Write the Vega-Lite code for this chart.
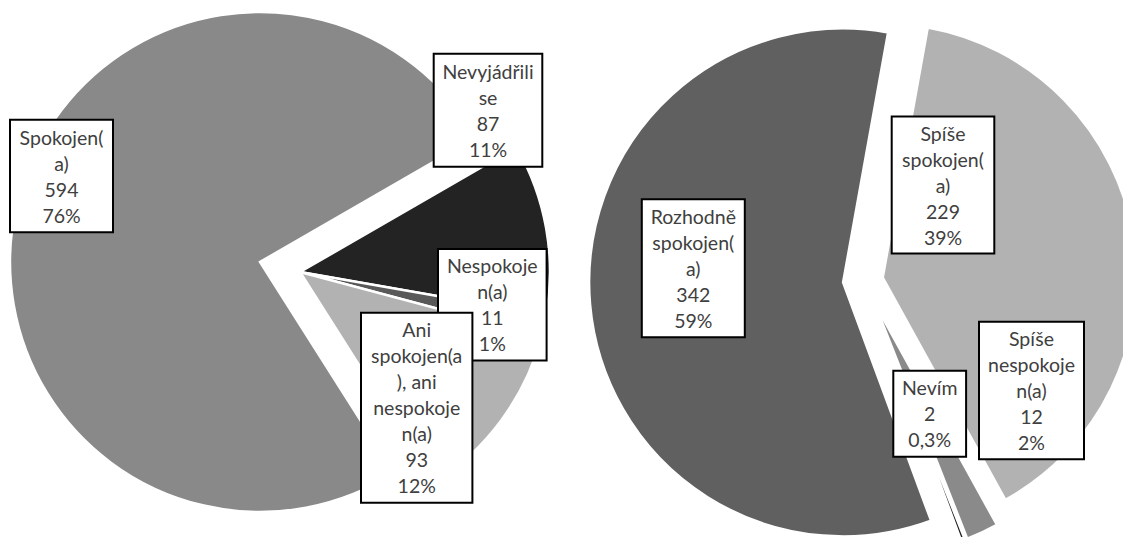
{
  "$schema": "https://vega.github.io/schema/vega-lite/v6.json",
  "padding": 0,
  "spacing": 0,
  "resolve": {"scale": {"color": "independent", "theta": "independent"}},
  "config": {
    "view": {"stroke": null},
    "text": {"font": "Lato", "fontSize": 19.5, "lineHeight": 26, "lineBreak": "\n", "color": "#404040", "align": "center", "baseline": "middle"},
    "point": {"size": 4, "filled": true, "fill": "#ffffff", "stroke": "#000000", "strokeWidth": 2, "opacity": 1}
  },
  "hconcat": [
    {
      "width": 590,
      "height": 537,
      "data": {
        "values": [
          {"cat": "Spokojen(a)", "wrapped": "Spokojen(\na)", "count": 594, "pct": "76%"},
          {"cat": "Nevyjádřili se", "wrapped": "Nevyjádřili\nse", "count": 87, "pct": "11%"},
          {"cat": "Nespokojen(a)", "wrapped": "Nespokoje\nn(a)", "count": 11, "pct": "1%"},
          {"cat": "Ani spokojen(a), ani nespokojen(a)", "wrapped": "Ani\nspokojen(a\n), ani\nnespokoje\nn(a)", "count": 93, "pct": "12%"}
        ]
      },
      "transform": [
        {"window": [{"op": "row_number", "as": "k"}]},
        {"calculate": "datum.wrapped + '\\n' + datum.count + '\\n' + datum.pct", "as": "lab"}
      ],
      "layer": [
        {
          "mark": {"type": "arc", "radius": 250, "stroke": "#ffffff", "strokeWidth": 2.5, "clip": true, "xOffset": 5, "yOffset": 3.5},
          "encoding": {
            "theta": {"field": "count", "type": "quantitative", "stack": true, "scale": {"range": [2.5761, 8.8593]}},
            "order": {"field": "k", "type": "quantitative"},
            "color": {"field": "cat", "type": "nominal", "legend": null, "scale": {"domain": ["Spokojen(a)", "Nevyjádřili se", "Nespokojen(a)", "Ani spokojen(a), ani nespokojen(a)"], "range": ["#898989", "#232323", "#595959", "#b2b2b2"]}},
            "opacity": {"condition": {"test": "datum.cat !== 'Spokojen(a)'", "value": 1}, "value": 0}
          }
        },
        {
          "mark": {"type": "arc", "radius": 250, "stroke": "#ffffff", "strokeWidth": 2.5, "clip": true, "xOffset": -35, "yOffset": -6.5},
          "encoding": {
            "theta": {"field": "count", "type": "quantitative", "stack": true, "scale": {"range": [2.5761, 8.8593]}},
            "order": {"field": "k", "type": "quantitative"},
            "color": {"field": "cat", "type": "nominal", "legend": null, "scale": {"domain": ["Spokojen(a)", "Nevyjádřili se", "Nespokojen(a)", "Ani spokojen(a), ani nespokojen(a)"], "range": ["#898989", "#232323", "#595959", "#b2b2b2"]}},
            "opacity": {"condition": {"test": "datum.cat === 'Spokojen(a)'", "value": 1}, "value": 0}
          }
        },
        {
          "transform": [{"filter": "datum.cat === 'Spokojen(a)'"}],
          "layer": [
            {"mark": {"type": "point", "shape": "M-51.5,-56.2H51.5V56.2H-51.5Z", "xOffset": -233.5, "yOffset": -92.5}},
            {"mark": {"type": "text", "xOffset": -233.5, "yOffset": -130}, "encoding": {"text": {"field": "lab", "type": "nominal"}}}
          ]
        },
        {
          "transform": [{"filter": "datum.cat === 'Nevyjádřili se'"}],
          "layer": [
            {"mark": {"type": "point", "shape": "M-54.3,-56.5H54.3V56.5H-54.3Z", "xOffset": 193, "yOffset": -158.2}},
            {"mark": {"type": "text", "xOffset": 193, "yOffset": -195.7}, "encoding": {"text": {"field": "lab", "type": "nominal"}}}
          ]
        },
        {
          "transform": [{"filter": "datum.cat === 'Nespokojen(a)'"}],
          "layer": [
            {"mark": {"type": "point", "shape": "M-54.3,-55.7H54.3V55.7H-54.3Z", "xOffset": 197.3, "yOffset": 36.2}},
            {"mark": {"type": "text", "xOffset": 197.3, "yOffset": -1.3}, "encoding": {"text": {"field": "lab", "type": "nominal"}}}
          ]
        },
        {
          "transform": [{"filter": "datum.cat === 'Ani spokojen(a), ani nespokojen(a)'"}],
          "layer": [
            {"mark": {"type": "point", "shape": "M-55.7,-95H55.7V95H-55.7Z", "xOffset": 121.7, "yOffset": 139.2}},
            {"mark": {"type": "text", "xOffset": 121.7, "yOffset": 62.7}, "encoding": {"text": {"field": "lab", "type": "nominal"}}}
          ]
        }
      ]
    },
    {
      "width": 533,
      "height": 537,
      "data": {
        "values": [
          {"cat": "Rozhodně spokojen(a)", "wrapped": "Rozhodně\nspokojen(\na)", "count": 342, "pct": "59%"},
          {"cat": "Spíše spokojen(a)", "wrapped": "Spíše\nspokojen(\na)", "count": 229, "pct": "39%"},
          {"cat": "Spíše nespokojen(a)", "wrapped": "Spíše\nnespokoje\nn(a)", "count": 12, "pct": "2%"},
          {"cat": "Nevím", "wrapped": "Nevím", "count": 2, "pct": "0,3%"}
        ]
      },
      "transform": [
        {"window": [{"op": "row_number", "as": "k"}]},
        {"calculate": "datum.wrapped + '\\n' + datum.count + '\\n' + datum.pct", "as": "lab"}
      ],
      "layer": [
        {
          "mark": {"type": "arc", "radius": 254, "stroke": "#ffffff", "strokeWidth": 2.5, "clip": true, "xOffset": -13.4, "yOffset": 13.9},
          "encoding": {
            "theta": {"field": "count", "type": "quantitative", "stack": true, "scale": {"range": [2.788, 9.0712]}},
            "order": {"field": "k", "type": "quantitative"},
            "color": {"field": "cat", "type": "nominal", "legend": null, "scale": {"domain": ["Rozhodně spokojen(a)", "Spíše spokojen(a)", "Spíše nespokojen(a)", "Nevím"], "range": ["#606060", "#b2b2b2", "#8a8a8a", "#1f1f1f"]}},
            "opacity": {"condition": {"test": "datum.cat === 'Rozhodně spokojen(a)'", "value": 1}, "value": 0}
          }
        },
        {
          "mark": {"type": "arc", "radius": 254, "stroke": "#ffffff", "strokeWidth": 2.5, "clip": true, "xOffset": 26.25, "yOffset": 9},
          "encoding": {
            "theta": {"field": "count", "type": "quantitative", "stack": true, "scale": {"range": [2.788, 9.0712]}},
            "order": {"field": "k", "type": "quantitative"},
            "color": {"field": "cat", "type": "nominal", "legend": null, "scale": {"domain": ["Rozhodně spokojen(a)", "Spíše spokojen(a)", "Spíše nespokojen(a)", "Nevím"], "range": ["#606060", "#b2b2b2", "#8a8a8a", "#1f1f1f"]}},
            "opacity": {"condition": {"test": "datum.cat === 'Spíše spokojen(a)'", "value": 1}, "value": 0}
          }
        },
        {
          "mark": {"type": "arc", "radius": 254, "stroke": "#ffffff", "strokeWidth": 2.5, "clip": true, "xOffset": 17.7, "yOffset": 33.8},
          "encoding": {
            "theta": {"field": "count", "type": "quantitative", "stack": true, "scale": {"range": [2.788, 9.0712]}},
            "order": {"field": "k", "type": "quantitative"},
            "color": {"field": "cat", "type": "nominal", "legend": null, "scale": {"domain": ["Rozhodně spokojen(a)", "Spíše spokojen(a)", "Spíše nespokojen(a)", "Nevím"], "range": ["#606060", "#b2b2b2", "#8a8a8a", "#1f1f1f"]}},
            "opacity": {"condition": {"test": "datum.cat === 'Spíše nespokojen(a)'", "value": 1}, "value": 0}
          }
        },
        {
          "mark": {"type": "arc", "radius": 254, "stroke": "#ffffff", "strokeWidth": 2.5, "clip": true, "xOffset": 41.4, "yOffset": 100.9},
          "encoding": {
            "theta": {"field": "count", "type": "quantitative", "stack": true, "scale": {"range": [2.788, 9.0712]}},
            "order": {"field": "k", "type": "quantitative"},
            "color": {"field": "cat", "type": "nominal", "legend": null, "scale": {"domain": ["Rozhodně spokojen(a)", "Spíše spokojen(a)", "Spíše nespokojen(a)", "Nevím"], "range": ["#606060", "#b2b2b2", "#8a8a8a", "#1f1f1f"]}},
            "opacity": {"condition": {"test": "datum.cat === 'Nevím'", "value": 1}, "value": 0}
          }
        },
        {
          "transform": [{"filter": "datum.cat === 'Rozhodně spokojen(a)'"}],
          "layer": [
            {"mark": {"type": "point", "shape": "M-51.5,-69H51.5V69H-51.5Z", "xOffset": -163.2, "yOffset": -0.3}},
            {"mark": {"type": "text", "xOffset": -163.2, "yOffset": -50.8}, "encoding": {"text": {"field": "lab", "type": "nominal"}}}
          ]
        },
        {
          "transform": [{"filter": "datum.cat === 'Spíše spokojen(a)'"}],
          "layer": [
            {"mark": {"type": "point", "shape": "M-51.3,-68.5H51.3V68.5H-51.3Z", "xOffset": 86.5, "yOffset": -83.5}},
            {"mark": {"type": "text", "xOffset": 86.5, "yOffset": -134}, "encoding": {"text": {"field": "lab", "type": "nominal"}}}
          ]
        },
        {
          "transform": [{"filter": "datum.cat === 'Nevím'"}],
          "layer": [
            {"mark": {"type": "point", "shape": "M-36.4,-43H36.4V43H-36.4Z", "xOffset": 73.2, "yOffset": 145.2}},
            {"mark": {"type": "text", "xOffset": 73.2, "yOffset": 120.7}, "encoding": {"text": {"field": "lab", "type": "nominal"}}}
          ]
        },
        {
          "transform": [{"filter": "datum.cat === 'Spíše nespokojen(a)'"}],
          "layer": [
            {"mark": {"type": "point", "shape": "M-52.5,-68.8H52.5V68.8H-52.5Z", "xOffset": 175, "yOffset": 122}},
            {"mark": {"type": "text", "xOffset": 175, "yOffset": 71.5}, "encoding": {"text": {"field": "lab", "type": "nominal"}}}
          ]
        }
      ]
    }
  ]
}
